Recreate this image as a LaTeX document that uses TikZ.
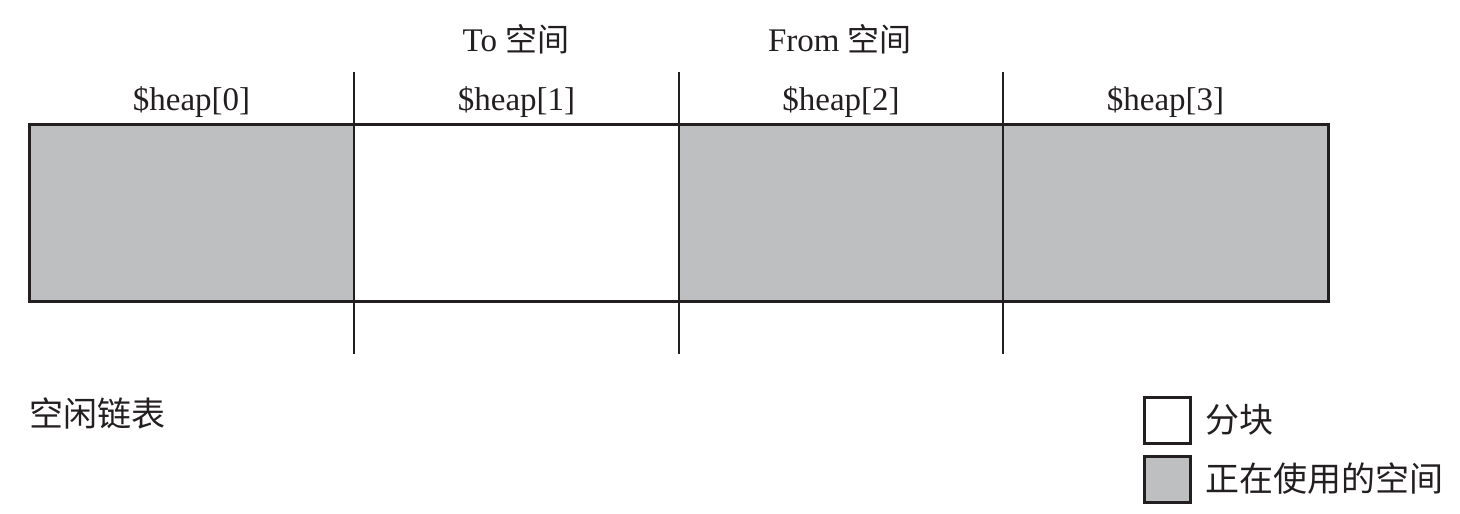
\documentclass[tikz,border=0pt]{standalone}
\usepackage{fontspec}
\setmainfont{Liberation Serif}
\newfontfamily\cjk{Noto Sans CJK SC}
\definecolor{used}{RGB}{190,191,193}
\definecolor{ink}{RGB}{35,31,32}
\begin{document}
\begin{tikzpicture}[x=1pt,y=-1pt,
  cell/.style={draw=ink,line width=3pt},
  divline/.style={draw=ink,line width=2.6pt},
  lbl/.style={font=\fontsize{33}{35}\selectfont,inner sep=0pt,text=ink},
  cjklbl/.style={font=\fontsize{34}{36}\selectfont\cjk,inner sep=0pt,text=ink},
  legbox/.style={draw=ink,line width=3pt,minimum width=46pt,minimum height=46pt,inner sep=0pt}]
\useasboundingbox (0,0) rectangle (1460,514);
% cells
\fill[used] (29,124) rectangle (354,301);
\fill[white] (354,124) rectangle (679,301);
\fill[used] (679,124) rectangle (1003,301);
\fill[used] (1003,124) rectangle (1328,301);
\draw[cell] (29,124) rectangle (1328,301);
% dividers
\coordinate (d1t) at (354,72); \coordinate (d1b) at (354,354);
\coordinate (d2t) at (679,72); \coordinate (d2b) at (679,354);
\coordinate (d3t) at (1003,72); \coordinate (d3b) at (1003,354);
\draw[divline] (d1t) -- (d1b);
\draw[divline] (d2t) -- (d2b);
\draw[divline] (d3t) -- (d3b);
% labels
\node[lbl] (h0) at (191.5,102) {\$heap[0]};
\node[lbl] (h1) at (516.5,102) {\$heap[1]};
\node[lbl] (h2) at (841,102) {\$heap[2]};
\node[lbl] (h3) at (1165.5,102) {\$heap[3]};
\node[lbl] (to) at (516,39) {To {\cjk\fontsize{32}{34}\selectfont 空间}};
\node[lbl] (from) at (840,39) {From {\cjk\fontsize{32}{34}\selectfont 空间}};
\node[cjklbl,anchor=west] (free) at (29,413) {空闲链表};
% legend
\node[legbox,fill=white] (lb1) at (1167,420) {};
\node[legbox,fill=used] (lb2) at (1167,479) {};
\node[cjklbl,anchor=west] (lt1) at (1205,420) {分块};
\node[cjklbl,anchor=west] (lt2) at (1205,479) {正在使用的空间};
\end{tikzpicture}
\end{document}
